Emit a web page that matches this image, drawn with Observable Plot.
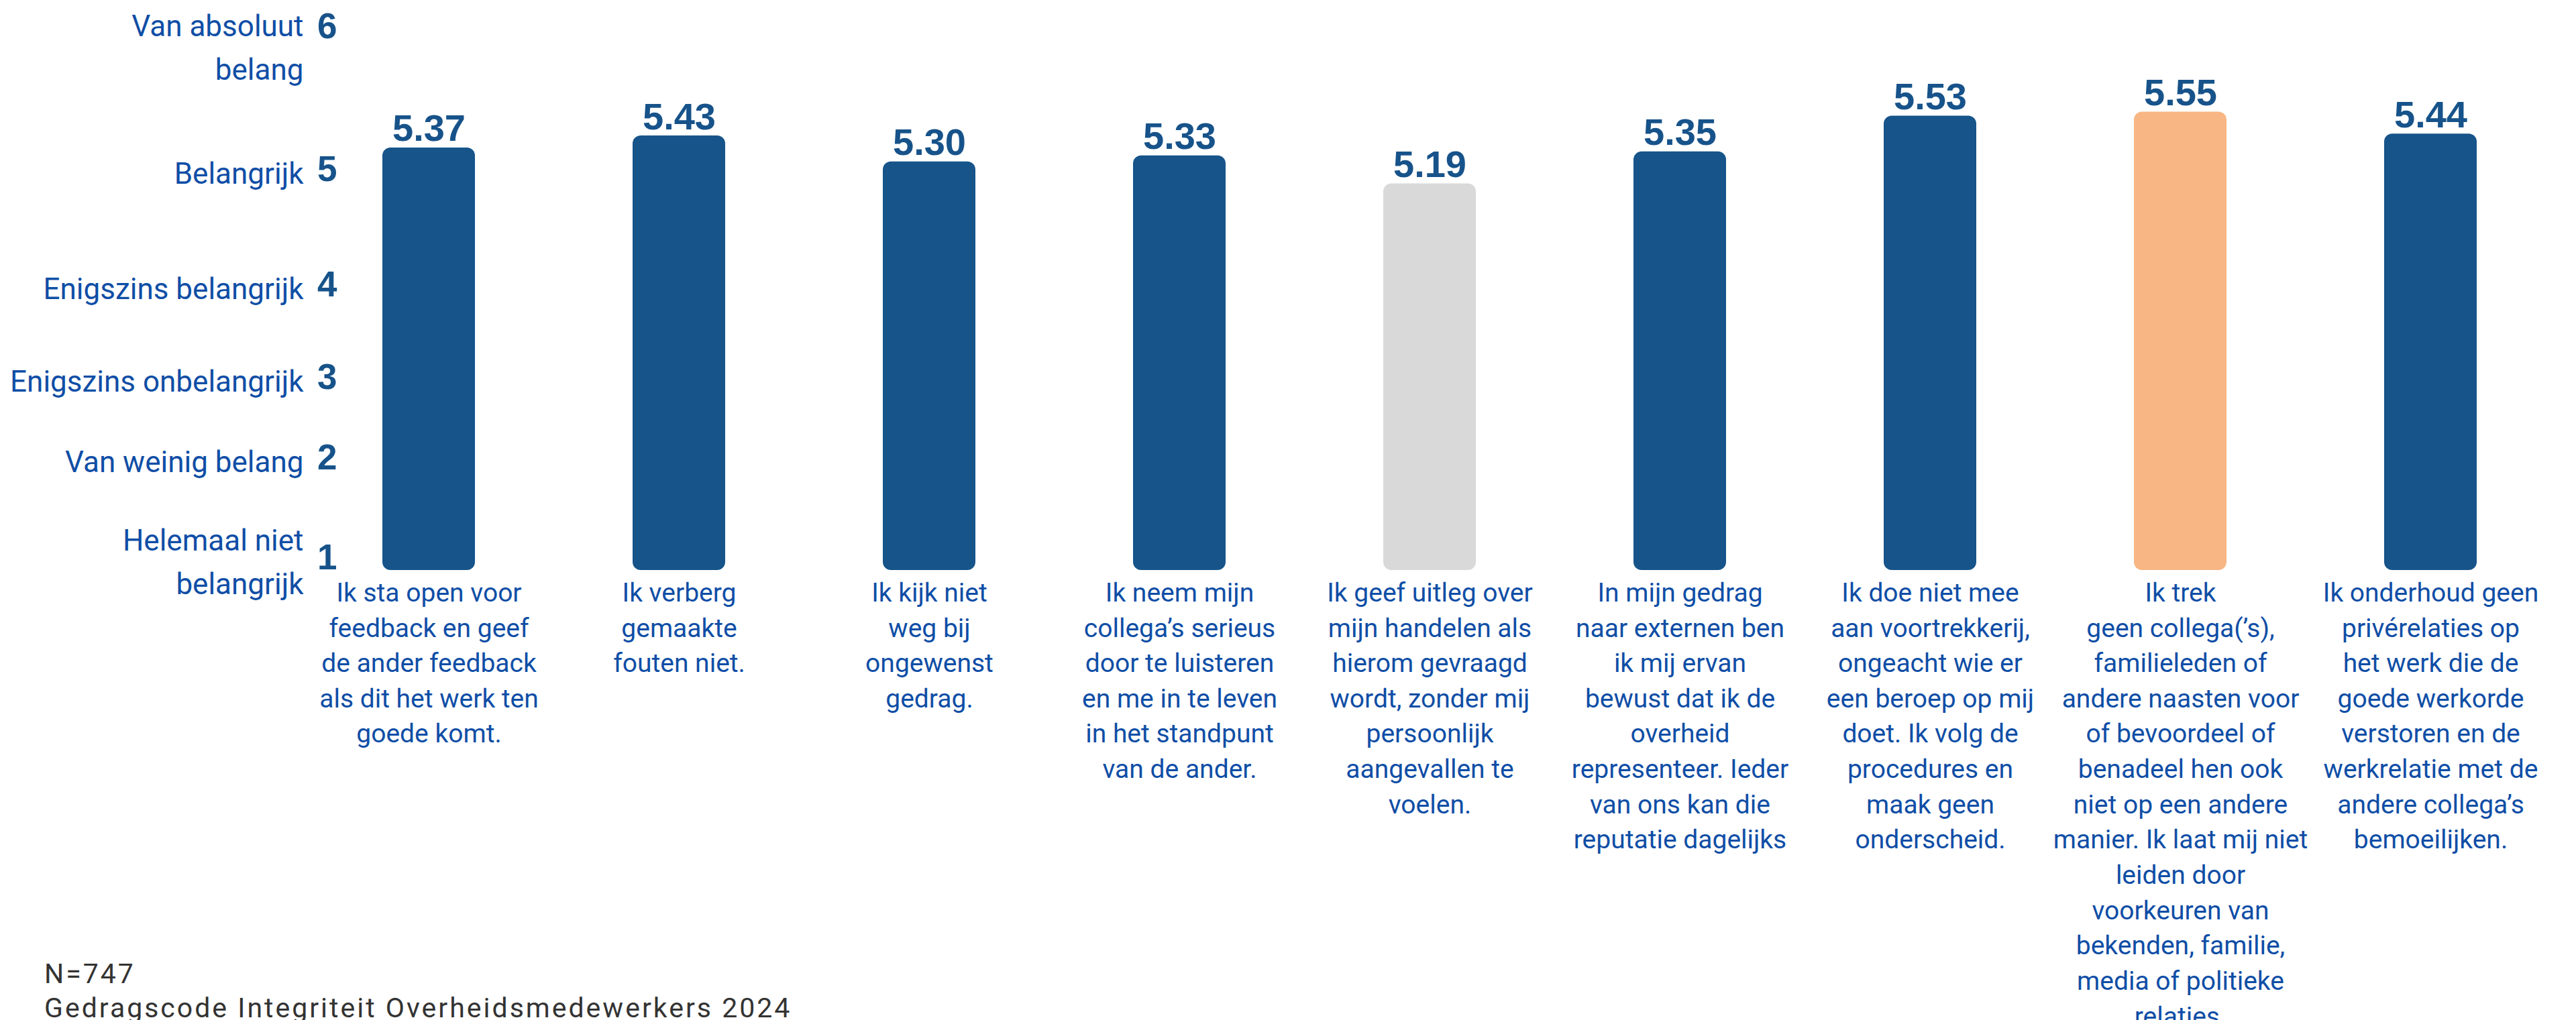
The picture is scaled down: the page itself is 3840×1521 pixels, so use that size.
<!DOCTYPE html>
<html>
<head>
<meta charset="utf-8">
<script src="https://cdn.jsdelivr.net/npm/d3@7"></script>
<script src="https://cdn.jsdelivr.net/npm/@observablehq/plot@0.6"></script>
<style>
  body { margin: 0; background: #ffffff; }
  #wrap { position: relative; width: 3840px; height: 1521px; overflow: hidden; background: #ffffff; }
  #wrap svg { position: absolute; left: 0; top: 0; }
  #caption { position: absolute; left: 66px; top: 1427px; font-family: Roboto, sans-serif; font-size: 41px; line-height: 51px; color: #333333; letter-spacing: 3px; white-space: nowrap; }
</style>
</head>
<body>
<div id="wrap"><div id="caption"></div></div>
<script>
// ---- data ----
const categories = [
  "Ik sta open voor\nfeedback en geef\nde ander feedback\nals dit het werk ten\ngoede komt.",
  "Ik verberg\ngemaakte\nfouten niet.",
  "Ik kijk niet\nweg bij\nongewenst\ngedrag.",
  "Ik neem mijn\ncollega’s serieus\ndoor te luisteren\nen me in te leven\nin het standpunt\nvan de ander.",
  "Ik geef uitleg over\nmijn handelen als\nhierom gevraagd\nwordt, zonder mij\npersoonlijk\naangevallen te\nvoelen.",
  "In mijn gedrag\nnaar externen ben\nik mij ervan\nbewust dat ik de\noverheid\nrepresenteer. Ieder\nvan ons kan die\nreputatie dagelijks",
  "Ik doe niet mee\naan voortrekkerij,\nongeacht wie er\neen beroep op mij\ndoet. Ik volg de\nprocedures en\nmaak geen\nonderscheid.",
  "Ik trek\ngeen collega(’s),\nfamilieleden of\nandere naasten voor\nof bevoordeel of\nbenadeel hen ook\nniet op een andere\nmanier. Ik laat mij niet\nleiden door\nvoorkeuren van\nbekenden, familie,\nmedia of politieke\nrelaties.",
  "Ik onderhoud geen\nprivérelaties op\nhet werk die de\ngoede werkorde\nverstoren en de\nwerkrelatie met de\nandere collega’s\nbemoeilijken."
];
const values = [5.37, 5.43, 5.30, 5.33, 5.19, 5.35, 5.53, 5.55, 5.44];
const scaleTicks = [1, 2, 3, 4, 5, 6];
const scaleLabels = [
  "Helemaal niet\nbelangrijk",
  "Van weinig belang",
  "Enigszins onbelangrijk",
  "Enigszins belangrijk",
  "Belangrijk",
  "Van absoluut\nbelang"
];
const captionLines = ["N=747", "Gedragscode Integriteit Overheidsmedewerkers 2024"];

// ---- build ----
const navy = "#16548a";
const textBlue = "#0f4ea6";
const data = categories.map((c, i) => ({cat: c, value: values[i]}));
const vmax = d3.max(values), vmin = d3.min(values);
const group = d => d.value === vmax ? "hoogste" : d.value === vmin ? "laagste" : "overig";

const bars = Plot.plot({
  width: 3840,
  height: 1521,
  marginLeft: 449,
  marginRight: 27,
  marginTop: 0,
  marginBottom: 671,
  style: {background: "transparent", overflow: "visible"},
  x: {domain: categories, paddingInner: 0.63, paddingOuter: 0.315, axis: null},
  y: {domain: [3.25, 6.11], clamp: true, axis: null},
  color: {domain: ["overig", "laagste", "hoogste"], range: [navy, "#d9d9d9", "#f7b683"]},
  marks: [
    Plot.barY(data, {x: "cat", y: "value", fill: group, rx: 12}),
    Plot.text(data, {
      x: "cat", y: "value", text: d => d.value.toFixed(2),
      lineAnchor: "bottom", dy: -10,
      fontSize: 56, fontWeight: "bold", fontFamily: "'Liberation Sans', Arial, sans-serif",
      fill: "#17538a"
    }),
    Plot.text(data, {
      x: "cat", text: "cat", frameAnchor: "bottom", lineAnchor: "top", dy: 9,
      lineHeight: 1.35, fontSize: 39, fontFamily: "Roboto, sans-serif", fill: textBlue
    })
  ]
});

const scaleData = scaleTicks.map((t, i) => ({tick: t, label: scaleLabels[i]}));
const topTick = d3.max(scaleTicks);
const labelOpts = {
  y: "tick", text: "label", frameAnchor: "left", textAnchor: "end", dx: -53,
  lineHeight: 1.47, fontSize: 44, fontFamily: "Roboto, sans-serif", fill: textBlue
};
const axis = Plot.plot({
  width: 520,
  height: 1521,
  marginLeft: 505,
  marginRight: 15,
  marginTop: 0,
  marginBottom: 0,
  style: {background: "transparent", color: "#17538a", overflow: "visible"},
  y: {type: "linear", domain: scaleTicks, range: [832, 683, 563, 425, 253, 40], axis: null},
  marks: [
    Plot.axisY(scaleTicks, {
      label: null, tickSize: 0, tickPadding: 3, fontSize: 53, fontWeight: "bold",
      fontFamily: "'Liberation Sans', Arial, sans-serif", tickFormat: d => String(d)
    }),
    Plot.text(scaleData.filter(d => d.tick !== topTick), labelOpts),
    Plot.text(scaleData.filter(d => d.tick === topTick), {...labelOpts, dy: 25})
  ]
});

const wrap = document.getElementById("wrap");
wrap.appendChild(bars);
wrap.appendChild(axis);
document.getElementById("caption").innerHTML = captionLines.join("<br>");
</script>
</body>
</html>
